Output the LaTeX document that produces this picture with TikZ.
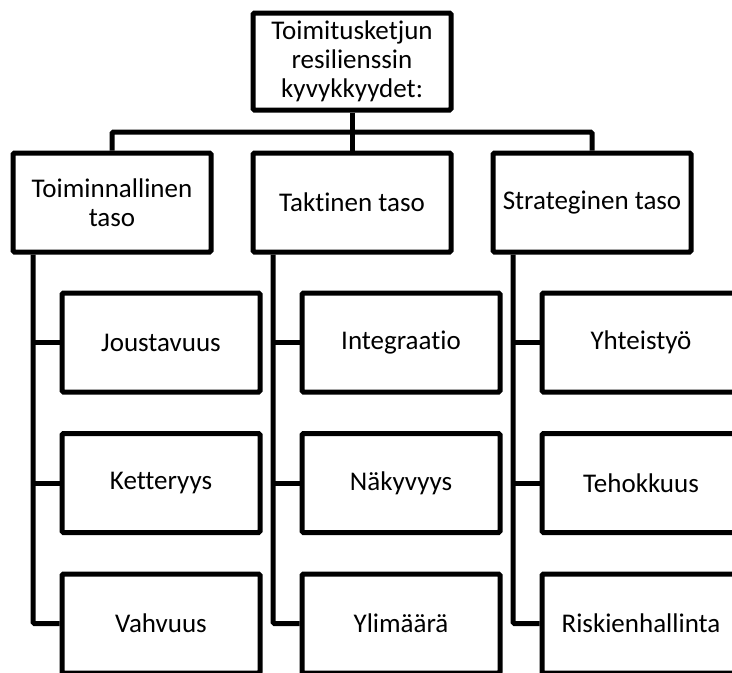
\documentclass[tikz,border=0pt]{standalone}
\usepackage{fontspec}
\setmainfont{Carlito}[Ligatures={NoCommon}]
\begin{document}
\begin{tikzpicture}[x=1pt,y=-1pt,
  box/.style={draw=black, line width=5pt, rounded corners=1.5pt, fill=white,
    minimum width=198pt, minimum height=99pt, inner sep=2pt, align=center,
    font=\fontsize{27}{29}\selectfont},
  link/.style={draw=black, line width=5pt, rounded corners=1.5pt}]
\useasboundingbox (0,0) rectangle (732,673);
\clip (0,0) rectangle (732,673);
% top
\node[box, minimum height=97pt] (top) at (352,61.5) {Toimitusketjun\\resilienssin\\kyvykkyydet:};
% level 2
\node[box] (L) at (112,202.5) {Toiminnallinen\\taso};
\node[box] (M) at (352,202.5) {Taktinen taso};
\node[box] (R) at (592,202.5) {Strateginen taso};
% children
\node[box] (L1) at (161,342.5) {Joustavuus};
\node[box] (L2) at (161,483) {Ketteryys};
\node[box] (L3) at (161,623.5) {Vahvuus};
\node[box] (M1) at (401,342.5) {Integraatio};
\node[box] (M2) at (401,483) {Näkyvyys};
\node[box] (M3) at (401,623.5) {Ylimäärä};
\node[box] (R1) at (641,342.5) {Yhteistyö};
\node[box] (R2) at (641,483) {Tehokkuus};
\node[box] (R3) at (641,623.5) {Riskienhallinta};
% connectors
\coordinate (bus) at (352,132);
\coordinate (cL) at (33,0);
\coordinate (cM) at (273,0);
\coordinate (cR) at (513,0);
\draw[link] (top.south) -- (M.north);
\draw[link] (L.north) |- (bus) -| (R.north);
\draw[link] (L.south -| cL) |- (L3.west);
\draw[link] (L1.west) -- (L1.west -| cL);
\draw[link] (L2.west) -- (L2.west -| cL);
\draw[link] (M.south -| cM) |- (M3.west);
\draw[link] (M1.west) -- (M1.west -| cM);
\draw[link] (M2.west) -- (M2.west -| cM);
\draw[link] (R.south -| cR) |- (R3.west);
\draw[link] (R1.west) -- (R1.west -| cR);
\draw[link] (R2.west) -- (R2.west -| cR);
\end{tikzpicture}
\end{document}
